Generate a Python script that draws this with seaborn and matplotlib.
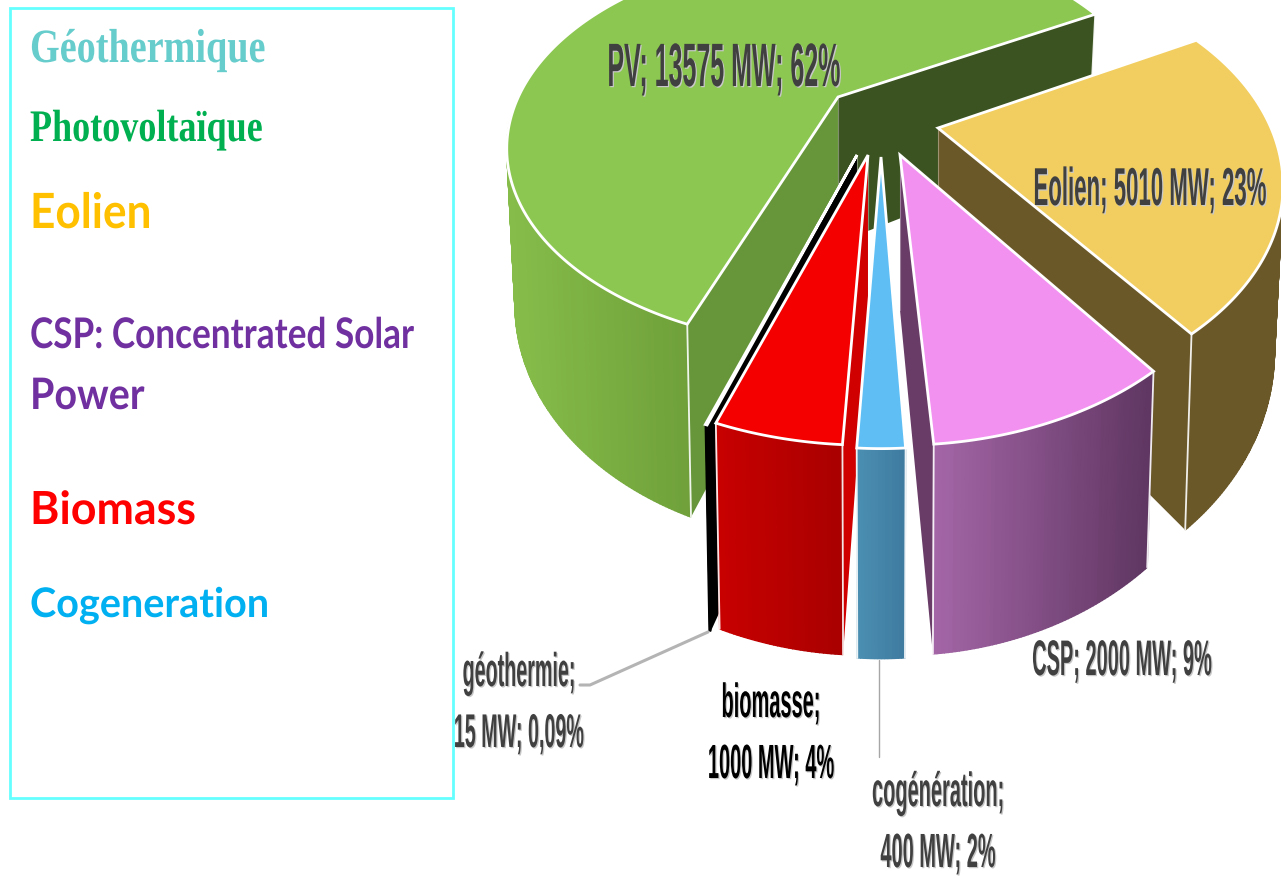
import numpy as np
import matplotlib
matplotlib.use("Agg")
import matplotlib.pyplot as plt
import matplotlib.patheffects as pe
from matplotlib.colors import to_rgba
from matplotlib.patches import Polygon, Rectangle
from matplotlib.transforms import Affine2D
import seaborn as sns

# ---- data (clockwise order, starting at the PV / Eolien boundary)
names = ["Eolien", "CSP", "cogénération", "biomasse", "géothermie", "PV"]
mw = [5010, 2000, 400, 1000, 15, 13575]

label_lines = [
    ["Eolien; 5010 MW; 23%"],
    ["CSP; 2000 MW; 9%"],
    ["cogénération;", "400 MW; 2%"],
    ["biomasse;", "1000 MW; 4%"],
    ["géothermie;", "15 MW; 0,09%"],
    ["PV; 13575 MW; 62%"],
]
legend_texts = ["Géothermique", "Photovoltaïque", "Eolien",
                "CSP: Concentrated Solar", "Power", "Biomass", "Cogeneration"]

# ---- styles
top_col = ["#f2ce60", "#f291f0", "#5fbff5", "#f50000", "#000000", "#8cc751"]
wall_a = ["#6b5829", "#a365a6", "#4a8fb2", "#c80000", "#000000", "#86bd4a"]
wall_b = ["#6b5829", "#5e3560", "#3f7a9f", "#a80000", "#000000", "#6fa03a"]
face_start = ["#3b3018", "#683c66", "#3f7a9f", "#d00000", "#000000", "#67963a"]
face_end = ["#6b5829", "#683c66", "#3f7a9f", "#d00000", "#000000", "#3b5320"]
apex = [(938, 128), (900, 155), (881, 157), (868, 155), (857, 155), (838, 97)]
# per-slice horizontal and vertical scale: (left of the apex, right of the apex)
sx = [(1.0, 1.0), (1.0, 1.0), (0.95, 0.95), (1.03, 1.03), (1.06, 1.06), (0.96, 0.97)]
sy = [(1.0, 1.0), (1.05, 1.05), (1.055, 1.055), (1.05, 1.05), (1.05, 1.05), (0.90, 1.0)]
sh = [1.0, 1.0, 1.0, 1.0, 1.0, 0.94]
rot = [0, 0, 1.0, 0.9, 0, 2.0]
draw_order = [5, 0, 4, 3, 1, 2]
START = 61.0
A, B, K, H, BOTX = 333.0, 204.0, 0.262, 155.0, 0.975

sns.set_theme(style="white")
fig = plt.figure(figsize=(12.81, 8.77), dpi=100, facecolor="white")
ax = fig.add_axes([0, 0, 1, 1])
ax.set_xlim(0, 1281)
ax.set_ylim(877, 0)
ax.axis("off")

edges = START + np.concatenate([[0], np.cumsum(mw)]) / np.sum(mw) * 360.0


def rim(theta, i):
    t = np.radians(np.asarray(theta) + rot[i])
    u, v = np.sin(t), np.cos(t)
    w = 1 + K * v
    fx = np.where(u < 0, sx[i][0], sx[i][1])
    fy = np.where(u < 0, sy[i][0], sy[i][1])
    return A * fx * u / w, -B * fy * v / w, H * sh[i] / w, v


for n, i in enumerate(draw_order):
    base = 2 + n * 10
    ax0, ay0 = apex[i]
    span = edges[i + 1] - edges[i]
    th = np.linspace(edges[i], edges[i + 1], max(2, int(span * 2) + 2))
    X, Y, Z, V = rim(th, i)
    tx, ty = ax0 + X, ay0 + Y
    bx, by = ax0 + X * BOTX, ay0 + Y + Z

    # radial faces go first: those that face away end up under the wall and top
    ab = (ax0, ay0 + H * sh[i])
    ax.add_patch(Polygon([(ax0, ay0), (tx[0], ty[0]), (bx[0], by[0]), ab],
                         closed=True, fc=face_start[i], ec="none", zorder=base))
    ax.add_patch(Polygon([(ax0, ay0), (tx[-1], ty[-1]), (bx[-1], by[-1]), ab],
                         closed=True, fc=face_end[i], ec="none", zorder=base))

    # outer wall (only the part facing the viewer), as a horizontal gradient
    vis = np.where(V < -K * 0.5)[0]
    pal = sns.blend_palette([wall_a[i], wall_b[i]], 64)
    lo, hi = tx[vis].min(), tx[vis].max()
    for j in vis[:-1]:
        if j + 1 not in vis:
            continue
        k = int(63 * ((tx[j] + tx[j + 1]) / 2 - lo) / max(hi - lo, 1))
        c = pal[k]
        ax.add_patch(Polygon([(tx[j], ty[j]), (tx[j + 1], ty[j + 1]),
                              (bx[j + 1], by[j + 1]), (bx[j], by[j])],
                             closed=True, fc=c, ec=c, lw=1.0, zorder=base + 1))

    for e in (0, -1):
        if i != 4:
            ax.plot([tx[e], bx[e]], [ty[e], by[e]], color="white", lw=1.3,
                    zorder=base + 2, alpha=0.9)
    ax.plot([ax0, ax0], [ay0, ab[1]], color="white", lw=0.8, alpha=0.35, zorder=base + 2)

    # top face
    verts = [(ax0, ay0)] + list(zip(tx, ty))
    ax.add_patch(Polygon(verts, closed=True, fc=top_col[i], ec="white", lw=2.0,
                         joinstyle="miter", zorder=base + 3))


class Squash(pe.AbstractPathEffect):
    """Stretches a real text around its anchor, with an optional soft shadow."""

    def __init__(self, fx, fy, anchor, shadow=None):
        super().__init__()
        self.fx, self.fy, self.anchor, self.shadow = fx, fy, anchor, shadow

    def draw_path(self, renderer, gc, tpath, affine, rgbFace=None):
        px, py = ax.transData.transform(self.anchor)
        t = affine + Affine2D().translate(-px, -py).scale(self.fx, self.fy).translate(px, py)
        if self.shadow:
            renderer.draw_path(gc, tpath, t + Affine2D().translate(1.2, -1.2), to_rgba(self.shadow))
        renderer.draw_path(gc, tpath, t, rgbFace)


def stretched(x, y, s, size, fy, color, family, ha="center", weight="bold", shadow=None, fx=1.0):
    ax.text(x, y, s, fontsize=size, color=color, family=family, weight=weight, ha=ha, va="baseline",
            zorder=200, path_effects=[Squash(fx, fy, (x, y), shadow)])


# ---- data labels
lab_x = [1150, 1122, 938, 771, 519, 724]
lab_y = [[205], [675], [806, 867], [717, 778], [686, 747], [86]]
lab_size = [16, 14.4, 14.4, 14.4, 14.2, 18]
lab_fy = [2.4, 2.5, 2.4, 2.4, 2.4, 2.45]
lab_col = ["#404040", "#404040", "#404040", "#000000", "#404040", "#404040"]
for i, lines in enumerate(label_lines):
    for s, yy in zip(lines, lab_y[i]):
        stretched(lab_x[i], yy, s, lab_size[i], lab_fy[i], lab_col[i], "Liberation Sans",
                  shadow="#c8c8c8")

# ---- leader lines
ax.plot([708, 590, 580], [632, 685, 685], color="#b4b4b4", lw=2.2, zorder=150)
ax.plot([879, 879], [660, 757], color="#a6a6a6", lw=1.0, zorder=150)

# ---- legend box and its texts
ax.add_patch(Rectangle((10, 8), 443, 790, fc="white", ec="#66ffff", lw=2, zorder=100))
leg_y = [62, 141, 228, 348, 409, 524, 617]
leg_col = ["#66cccc", "#00b050", "#ffc000", "#7030a0", "#7030a0", "#ff0000", "#00b0f0"]
leg_fam = ["Liberation Serif", "Liberation Serif", "Lato", "Lato", "Lato", "Lato", "Lato"]
leg_size = [27.5, 26, 31.8, 25.3, 28.4, 32.2, 28.5]
leg_fy = [1.25, 1.25, 1.1, 1.2, 1.1, 1.02, 1.03]
for s, yy, c, f, fs, fy in zip(legend_texts, leg_y, leg_col, leg_fam, leg_size, leg_fy):
    stretched(30, yy, s, fs, fy, c, f, ha="left")

fig.savefig("out.png", dpi=100)
